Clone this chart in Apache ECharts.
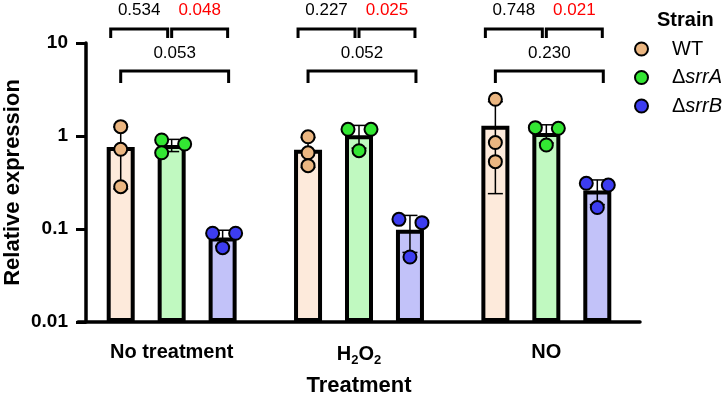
<!DOCTYPE html>
<html>
<head>
<meta charset="utf-8">
<script src="https://cdn.jsdelivr.net/npm/echarts@6/dist/echarts.min.js"></script>
<style>
  html, body { margin: 0; padding: 0; background: #fff; }
  #chart { width: 726px; height: 395px; }
</style>
</head>
<body>
<div id="chart"></div>
<script>
const categories = ['No treatment', 'H₂O₂', 'NO']
const strains = ['WT', 'ΔsrrA', 'ΔsrrB']

// bar heights (mean) and SD, per treatment
const meanWT = [0.76, 0.71, 1.29]
const meanSrrA = [0.80, 1.02, 1.08]
const meanSrrB = [0.081, 0.098, 0.26]
const sdWT = [0.49, 0.25, 1.05]
const sdSrrA = [0.12, 0.28, 0.24]
const sdSrrB = [0.016, 0.042, 0.077]

// individual replicates
const repWT = [[1.26, 0.72, 0.285], [0.98, 0.66, 0.48], [2.48, 0.85, 0.53]]
const repSrrA = [[0.906, 0.82, 0.66], [1.18, 1.18, 0.695], [1.23, 1.21, 0.80]]
const repSrrB = [[0.09, 0.09, 0.063], [0.127, 0.117, 0.05], [0.31, 0.297, 0.17]]

// p values shown on brackets
const pWTvsSrrA = [0.534, 0.227, 0.748]
const pSrrAvsSrrB = [0.048, 0.025, 0.021]
const pWTvsSrrB = [0.053, 0.052, 0.230]

const yTicks = [0.01, 0.1, 1, 10]

const means = [meanWT, meanSrrA, meanSrrB]
const sds = [sdWT, sdSrrA, sdSrrB]
const reps = [repWT, repSrrA, repSrrB]

const barFill = ['#fdeadb', '#c0f9c0', '#c2c2f9']
const dotFill = ['#ebb681', '#33e633', '#3d3df0']
const FONT = '"Liberation Sans", Arial, sans-serif'
const BAR_W = 28
const BAR_GAP = 0.82
const STEP = BAR_W * (1 + BAR_GAP)
// horizontal spread of the replicate dots (px)
const jitter = [
  [[0, 0, 0], [0, 0, 0], [0, 0, 0]],
  [[-10, 13, -10], [-11, 12, 0], [-11, 12, 0]],
  [[-10, 13, 0], [-11, 12, 0], [-11, 11, 0]]
]

const chart = echarts.init(document.getElementById('chart'))

const series = []
strains.forEach((name, s) => {
  series.push({
    name: name + ' mean',
    type: 'bar',
    barWidth: BAR_W,
    barGap: (BAR_GAP * 100) + '%',
    itemStyle: { color: barFill[s], borderColor: '#000', borderWidth: 4 },
    z: 2,
    data: means[s]
  })
})
strains.forEach((name, s) => {
  series.push({
    name: name + ' sd',
    type: 'custom',
    z: 3,
    clip: false,
    data: means[s].map((m, i) => [i, m, sds[s][i]]),
    renderItem: (params, api) => {
      const cat = api.value(0)
      const m = api.value(1)
      const sd = api.value(2)
      const hi = api.coord([cat, m + sd])
      const lo = api.coord([cat, Math.max(m - sd, 0.011)])
      const x = hi[0] + (s - 1) * STEP
      const st = { stroke: '#000', lineWidth: 1.5 }
      return {
        type: 'group',
        children: [
          { type: 'line', shape: { x1: x, y1: hi[1], x2: x, y2: lo[1] }, style: st },
          { type: 'line', shape: { x1: x - 7.5, y1: hi[1], x2: x + 7.5, y2: hi[1] }, style: st },
          { type: 'line', shape: { x1: x - 7.5, y1: lo[1], x2: x + 7.5, y2: lo[1] }, style: st }
        ]
      }
    }
  })
})
strains.forEach((name, s) => {
  const pts = []
  reps[s].forEach((arr, i) => arr.forEach((v, r) => pts.push([i, v, r])))
  series.push({
    name: name,
    type: 'custom',
    z: 4,
    clip: false,
    itemStyle: { color: dotFill[s], borderColor: '#000', borderWidth: 2 },
    data: pts,
    renderItem: (params, api) => {
      const cat = api.value(0)
      const p = api.coord([cat, api.value(1)])
      return {
        type: 'circle',
        shape: { cx: p[0] + (s - 1) * STEP + jitter[s][cat][api.value(2)], cy: p[1], r: 6.5 },
        style: { fill: dotFill[s], stroke: '#000', lineWidth: 2 }
      }
    }
  })
})

// significance brackets: [category, strain a, strain b, row, p]
const brackets = []
categories.forEach((c, i) => {
  brackets.push([i, 0, 1, 0, pWTvsSrrA[i]])
  brackets.push([i, 1, 2, 0, pSrrAvsSrrB[i]])
  brackets.push([i, 0, 2, 1, pWTvsSrrB[i]])
})
series.push({
  name: 'brackets',
  type: 'custom',
  z: 5,
  clip: false,
  silent: true,
  data: brackets,
  renderItem: (params, api) => {
    const cat = api.value(0)
    const a = api.value(1)
    const b = api.value(2)
    const row = api.value(3)
    const p = api.value(4)
    const c = api.coord([cat, 10])
    const top = c[1]
    let x1, x2
    if (row === 0) {
      x1 = c[0] + (a - 1) * STEP + (a === 0 ? -10 : 0)
      x2 = c[0] + (b - 1) * STEP + (b === 1 ? -4 : 5)
    } else {
      x1 = c[0] - STEP
      x2 = c[0] + STEP + 6
    }
    const yBar = row === 0 ? top - 14 : top + 28
    const leg = row === 0 ? 9 : 12
    const yText = row === 0 ? top - 33 : top + 10
    return {
      type: 'group',
      children: [
        {
          type: 'polyline',
          shape: { points: [[x1, yBar + leg], [x1, yBar], [x2, yBar], [x2, yBar + leg]] },
          style: { stroke: '#000', lineWidth: 3, fill: null }
        },
        {
          type: 'text',
          style: {
            x: (x1 + x2) / 2, y: yText,
            text: p.toFixed(3),
            fill: p < 0.05 ? '#ff0000' : '#000',
            font: '17px ' + FONT,
            align: 'center', verticalAlign: 'middle'
          }
        }
      ]
    }
  }
})

const option = {
  animation: false,
  textStyle: { fontFamily: FONT },
  title: {
    text: 'Strain',
    left: 657, top: 10, padding: 0,
    textStyle: { fontSize: 20, fontWeight: 'bold', color: '#000', fontFamily: FONT }
  },
  legend: {
    orient: 'vertical',
    left: 634, top: 38, padding: 0,
    itemWidth: 13, itemHeight: 13, itemGap: 6.5,
    icon: 'circle',
    data: strains.map((n, s) => ({
      name: n,
      itemStyle: { color: dotFill[s], borderColor: '#000', borderWidth: 2 }
    })),
    formatter: n => n === 'WT' ? '{g|}WT' : '{g|}Δ{i|' + n.slice(1) + '}',
    textStyle: {
      fontSize: 20, color: '#000', lineHeight: 22, fontFamily: FONT,
      rich: {
        g: { width: 19 },
        i: { fontSize: 20, fontStyle: 'italic', color: '#000', fontFamily: FONT }
      }
    }
  },
  grid: { left: 78, right: 86, top: 43, bottom: 73, outerBoundsMode: 'none' },
  xAxis: {
    type: 'category',
    data: categories,
    name: 'Treatment',
    nameLocation: 'middle',
    nameGap: 53,
    nameTextStyle: { fontSize: 22, fontWeight: 'bold', color: '#000' },
    axisLine: { lineStyle: { color: '#000', width: 3.5 } },
    axisTick: { alignWithLabel: true, length: 12, lineStyle: { width: 3, color: '#000' } },
    axisLabel: {
      interval: 0,
      fontSize: 20, fontWeight: 'bold', color: '#000', margin: 20,
      formatter: v => v.replace(/₂/g, '{sub|2}'),
      rich: {
        sub: { fontSize: 13, fontWeight: 'bold', color: '#000', verticalAlign: 'bottom', padding: [12, 0, 0, 0] }
      }
    }
  },
  yAxis: {
    type: 'log',
    logBase: 10,
    min: yTicks[0],
    max: yTicks[yTicks.length - 1],
    startValue: yTicks[0],
    offset: -8,
    name: 'Relative expression',
    nameLocation: 'middle',
    nameGap: 62,
    nameMoveOverlap: false,
    nameTextStyle: { fontSize: 22, fontWeight: 'bold', color: '#000' },
    axisLine: { show: true, lineStyle: { color: '#000', width: 3.5 } },
    axisTick: { show: true, length: 10, lineStyle: { width: 3, color: '#000' } },
    splitLine: { show: false },
    minorTick: { show: false },
    axisLabel: {
      fontSize: 19, fontWeight: 'bold', color: '#000', margin: 18,
      formatter: v => String(+(+v).toPrecision(1))
    }
  },
  series: series
}

chart.setOption(option)
</script>
</body>
</html>
